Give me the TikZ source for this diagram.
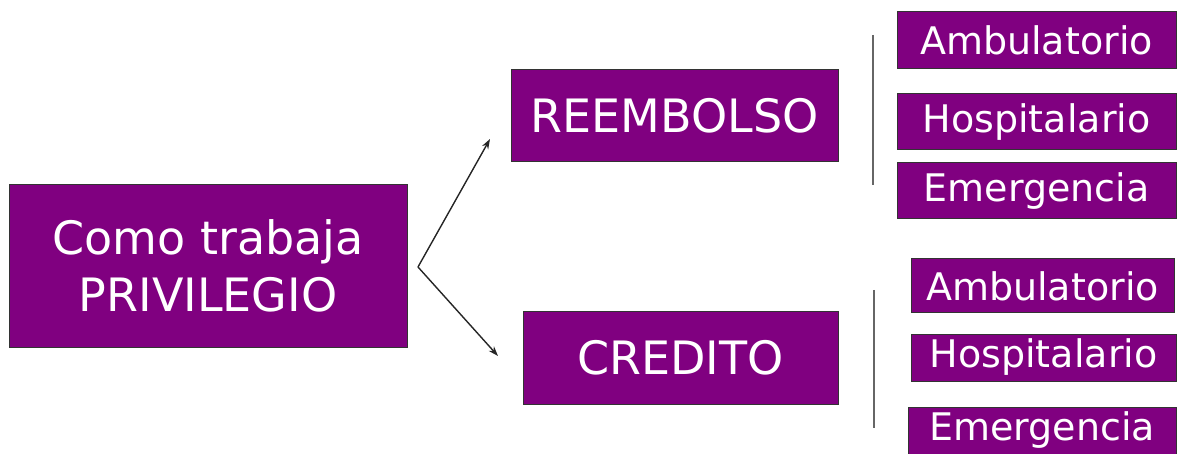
\documentclass[tikz,border=0pt]{standalone}
\usepackage{fontspec}
\setmainfont{DejaVu Sans}
\usetikzlibrary{arrows.meta}
\definecolor{privpurple}{HTML}{800080}

\begin{document}
\begin{tikzpicture}[x=1pt,y=-1pt]
    \tikzstyle{box}=[draw=black!80,line width=1pt,fill=privpurple,text=white,inner sep=0pt,align=center]
    \tikzstyle{big box}=[box,font=\fontsize{46}{57}\selectfont,minimum height=92]
    \tikzstyle{small box}=[box,font=\fontsize{38}{44}\selectfont]
    \tikzstyle{arrow}=[draw=black!85,line width=1.4pt,-{Stealth[length=10pt,width=7pt]}]
    \tikzstyle{bar}=[draw=black!60,line width=2pt]
    \useasboundingbox (0,0) rectangle (1178,454);
    % main box
    \node[big box,minimum width=398,minimum height=162] (privilegio) at (208,266) {Como trabaja\\PRIVILEGIO};
    \node[big box,minimum width=327] (reembolso) at (674.5,116) {REEMBOLSO};
    \node[big box,minimum width=315] (credito) at (680.5,358) {CREDITO};
    % reembolso options
    \node[small box,minimum width=279,minimum height=57] (ramb) at (1036.5,40.5) {Ambulatorio};
    \node[small box,minimum width=279,minimum height=56] (rhosp) at (1036.5,122) {Hospitalario};
    \node[small box,minimum width=279,minimum height=56] (reme) at (1036.5,191) {Emergencia};
    % credito options
    \node[small box,minimum width=263,minimum height=54] (camb) at (1042.5,286) {Ambulatorio};
    \node[small box,minimum width=265,minimum height=47] (chosp) at (1043.5,357.5) {Hospitalario};
    \node[small box,minimum width=268,minimum height=47] (ceme) at (1042,430.5) {Emergencia};
    % arrows
    \coordinate (split) at (418,267);
    \coordinate (toreem) at (490,139);
    \coordinate (tocred) at (498,356);
    \draw[arrow] (split) -- (toreem);
    \draw[arrow] (split) -- (tocred);
    % brackets
    \coordinate (rtop) at (873,35);
    \coordinate (rbot) at (873,185);
    \coordinate (ctop) at (874,290);
    \coordinate (cbot) at (874,428);
    \draw[bar] (rtop) -- (rbot);
    \draw[bar] (ctop) -- (cbot);
\end{tikzpicture}
\end{document}
